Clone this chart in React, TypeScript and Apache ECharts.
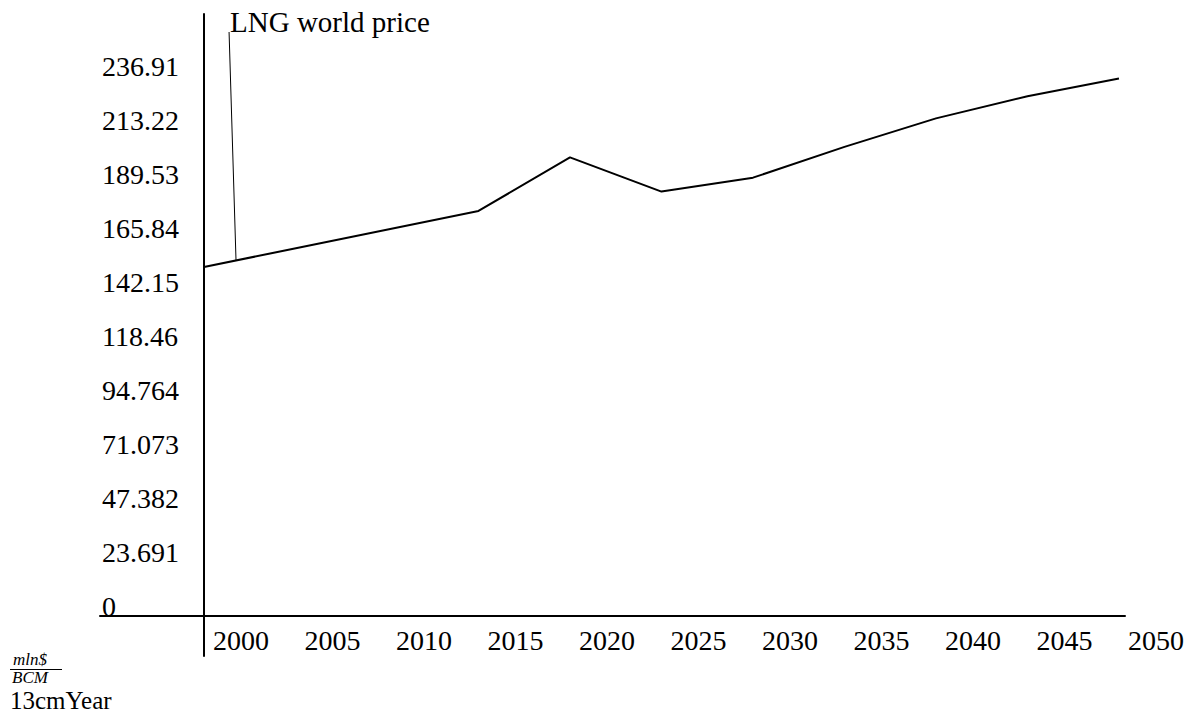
import React, { useEffect, useRef } from "react";
import * as echarts from "echarts";

// ---- data ----
const years = [2000, 2015, 2020, 2025, 2030, 2035, 2040, 2045, 2050];
const prices = [153.1, 177.7, 201.2, 186.2, 192.3, 205.8, 218.3, 228.0, 235.8];
const xTickYears = [2000, 2005, 2010, 2015, 2020, 2025, 2030, 2035, 2040, 2045, 2050];
const yTickLabels = ["0", "23.691", "47.382", "71.073", "94.764", "118.46", "142.15", "165.84", "189.53", "213.22", "236.91"];
const seriesName = "LNG world price";
const annotationFrom = [2001.75, 156.0];
const annotationTo = [2001.37, 256.2];
const yUnitNumerator = "mln$";
const yUnitDenominator = "BCM";
const xAxisTitle = "13cmYear";

const FONT = "'Liberation Serif', 'DejaVu Serif', serif";

export default function App() {
  const ref = useRef<HTMLDivElement>(null);

  useEffect(() => {
    if (!ref.current) return;
    const chart = echarts.init(ref.current, null, { renderer: "svg" });
    const yTickValues = yTickLabels.map(Number);

    chart.setOption({
      animation: false,
      backgroundColor: "#ffffff",
      grid: { left: 100, right: 75, top: 14, bottom: 57 },
      xAxis: {
        type: "value",
        min: 1994.317,
        max: 2050.33,
        axisLine: { show: true, onZero: true, lineStyle: { color: "#000", width: 2 } },
        axisTick: { show: false },
        splitLine: { show: false },
        axisLabel: {
          customValues: xTickYears,
          formatter: (v: number) => String(v),
          color: "#000",
          fontFamily: FONT,
          fontSize: 28,
          lineHeight: 30,
          align: "left",
          verticalAlign: "top",
          padding: [0, 0, 0, 9],
          margin: -31,
        },
      },
      yAxis: {
        type: "value",
        min: -17.55,
        max: 264.1,
        offset: -104,
        axisLine: { show: true, onZero: false, lineStyle: { color: "#000", width: 2 } },
        axisTick: { show: false },
        splitLine: { show: false },
        axisLabel: {
          customValues: yTickValues,
          formatter: (v: number) => {
            const l = yTickLabels.find((s) => Math.abs(Number(s) - v) < 1e-6);
            return l ?? String(v);
          },
          color: "#000",
          fontFamily: FONT,
          fontSize: 28,
          lineHeight: 18,
          align: "left",
          verticalAlign: "bottom",
          margin: 102,
        },
      },
      series: [
        {
          name: seriesName,
          type: "line",
          data: years.map((y, i) => [y, prices[i]]),
          showSymbol: false,
          lineStyle: { color: "#000", width: 2 },
          itemStyle: { color: "#000" },
          markLine: {
            silent: true,
            symbol: ["none", "none"],
            lineStyle: { color: "#000", width: 1, type: "solid" },
            label: { show: false },
            data: [[{ coord: annotationFrom }, { coord: annotationTo }]],
          },
          markPoint: {
            silent: true,
            symbol: "circle",
            symbolSize: 0,
            data: [{ coord: annotationTo }],
            label: {
              show: true,
              formatter: seriesName,
              position: [1, 2],
              align: "left",
              verticalAlign: "bottom",
              lineHeight: 24,
              color: "#000",
              fontFamily: FONT,
              fontSize: 29,
            },
          },
        },
      ],
      graphic: [
        {
          type: "text",
          left: 13,
          top: 651,
          style: { text: yUnitNumerator, fontFamily: FONT, fontStyle: "italic", fontSize: 17, lineHeight: 17, fill: "#000" },
        },
        {
          type: "line",
          shape: { x1: 10, y1: 669.5, x2: 62, y2: 669.5 },
          style: { stroke: "#000", lineWidth: 1 },
        },
        {
          type: "text",
          left: 12,
          top: 669,
          style: { text: yUnitDenominator, fontFamily: FONT, fontStyle: "italic", fontSize: 17, lineHeight: 17, fill: "#000" },
        },
        {
          type: "text",
          left: 10,
          top: 688,
          style: { text: xAxisTitle, fontFamily: FONT, fontSize: 25, lineHeight: 20, fill: "#000" },
        },
      ],
    });

    return () => chart.dispose();
  }, []);

  return (
    <div
      ref={ref}
      style={{ position: "fixed", left: 0, top: 0, width: 1200, height: 713, background: "#fff" }}
    />
  );
}
